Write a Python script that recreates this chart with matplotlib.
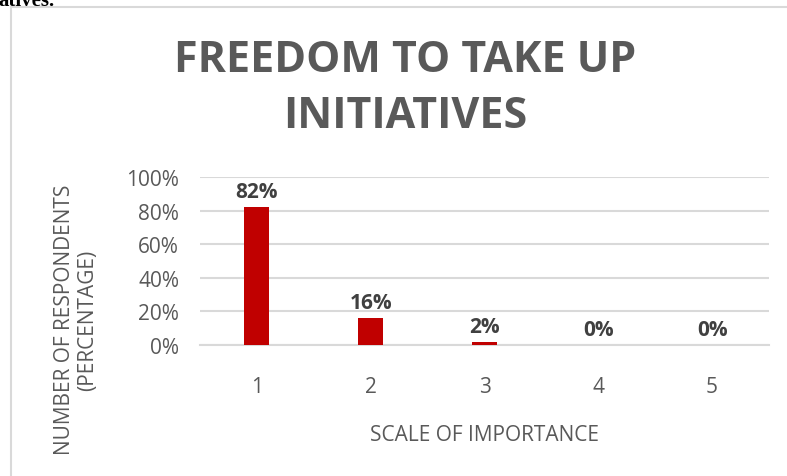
import matplotlib
matplotlib.use('Agg')
import matplotlib.pyplot as plt
from matplotlib.lines import Line2D
import numpy as np

C_BAR, C_GRID, C_TITLE, C_TICK, C_LAB = '#c00000', '#d9d9d9', '#595959', '#595959', '#404040'

categories = ['1', '2', '3', '4', '5']
values = [82, 16, 2, 0, 0]
yticks = [0, 20, 40, 60, 80, 100]

plt.rcParams['font.family'] = ['Open Sans', 'DejaVu Sans']

fig = plt.figure(figsize=(7.87, 4.77), dpi=100)
ax = fig.add_axes([200/787, 1 - 346/477, 569/787, 168/477])

x = np.arange(len(categories))
bars = ax.bar(x, values, 0.22, color=C_BAR, zorder=3)
for b, v in zip(bars, values):
    ax.text(b.get_x() + b.get_width()/2, v + 3, f'{v}%', ha='center', va='bottom',
            fontsize=15, fontweight='bold', color=C_LAB)

ax.set_xlim(-0.5, len(categories) - 0.5)
ax.set_ylim(0, 100)
ax.set_yticks(yticks)
ax.set_yticklabels([f'{t}%' for t in yticks], fontsize=15, color=C_TICK)
ax.set_xticks(x)
ax.set_xticklabels(categories, fontsize=15, color=C_TICK)
ax.tick_params(length=0)
ax.tick_params(axis='y', pad=15)
ax.tick_params(axis='x', pad=22)
ax.grid(axis='y', color=C_GRID, lw=1.5, zorder=0)
for s in ['top', 'right', 'left']:
    ax.spines[s].set_visible(False)
ax.spines['bottom'].set_color(C_GRID)
ax.spines['bottom'].set_linewidth(1.5)

ax.set_xlabel('SCALE OF IMPORTANCE', fontsize=15, color=C_TICK, labelpad=20)
fig.text(76/787, 1 - 320/477, 'NUMBER OF RESPONDENTS\n(PERCENTAGE)', rotation=90,
         ha='center', va='center', fontsize=15, color=C_TICK, multialignment='center',
         linespacing=1.15)

fig.text(405/787, 1 - 60/477, 'FREEDOM TO TAKE UP', ha='center', va='center',
         fontsize=31, fontweight='bold', color=C_TITLE)
fig.text(405/787, 1 - 116/477, 'INITIATIVES', ha='center', va='center',
         fontsize=31, fontweight='bold', color=C_TITLE)

# chart frame and cropped document text
fig.add_artist(Line2D([11/787, 1], [1 - 8/477, 1 - 8/477], color=C_GRID, lw=1.5))
fig.add_artist(Line2D([11/787, 11/787], [0, 1 - 8/477], color=C_GRID, lw=1.5))
fig.text(-2/787, 1 - 6/477, 'atives.', ha='left', va='baseline', fontsize=15,
         fontweight='bold', family='Liberation Serif', color='black')

fig.savefig('out.png', dpi=100)
